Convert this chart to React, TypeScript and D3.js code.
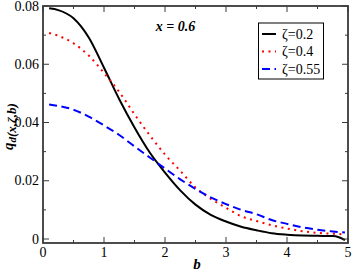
import React from "react";
import * as d3 from "d3";

const bGrid = [0.1, 0.25, 0.5, 0.75, 1.0, 1.25, 1.5, 1.75, 2.0, 2.25, 2.5, 2.75, 3.0, 3.25, 3.5, 3.75, 4.0, 4.25, 4.5, 4.75, 4.85, 4.95];
const zeta02 = [0.0792, 0.0786, 0.0758, 0.0692, 0.0588, 0.048, 0.0383, 0.0297, 0.0228, 0.0167, 0.0118, 0.0083, 0.006, 0.0042, 0.003, 0.002, 0.0015, 0.0012, 0.0011, 0.001, 0.0006, -0.0004];
const zeta04 = [0.0707, 0.0698, 0.0672, 0.063, 0.057, 0.0505, 0.0428, 0.0356, 0.029, 0.0234, 0.0177, 0.0138, 0.0107, 0.0078, 0.0062, 0.0047, 0.0036, 0.0027, 0.0021, 0.0018, 0.0017, 0.0015];
const zeta055 = [0.0462, 0.0457, 0.0444, 0.042, 0.039, 0.0357, 0.0318, 0.028, 0.0242, 0.0205, 0.0172, 0.0143, 0.012, 0.01, 0.0085, 0.0065, 0.0052, 0.004, 0.0032, 0.0026, 0.0024, 0.0022];
const seriesNames = ["ζ=0.2", "ζ=0.4", "ζ=0.55"];
const xTicks = [0, 1, 2, 3, 4, 5];
const xMinor = [0.5, 1.5, 2.5, 3.5, 4.5];
const yTicks = [0, 0.02, 0.04, 0.06, 0.08];
const yTickLabels = ["0", "0.02", "0.04", "0.06", "0.08"];
const yMinor = [0.01, 0.03, 0.05, 0.07];

const W = 354, H = 273;
const L = 43, R = 348, T = 6, B = 243;
const font = "serif";

export default function App() {
  const x = d3.scaleLinear().domain([0, 5]).range([L, R]);
  const y = d3.scaleLinear().domain([-0.00137, 0.08]).range([B, T]);
  const line = d3.line<[number, number]>().x(d => x(d[0])).y(d => y(d[1])).curve(d3.curveMonotoneX);
  const series = [
    { vals: zeta02, color: "#000000", dash: undefined as string | undefined },
    { vals: zeta04, color: "#ff0000", dash: "2,4.5" },
    { vals: zeta055, color: "#0000ff", dash: "8,4.5" },
  ];
  const axisColor = "#3a3a3a";
  return (
    <div style={{ position: "absolute", left: 0, top: 0 }}>
    <svg width={W} height={H} style={{ display: "block", background: "#fff" }} fontFamily={font}>
      <rect x={0} y={0} width={W} height={H} fill="#fff" />
      {series.map((s, i) => (
        <path key={i} d={line(bGrid.map((b, j) => [b, s.vals[j]]))!} fill="none" stroke={s.color}
          strokeWidth={2} strokeDasharray={s.dash} />
      ))}
      <rect x={L} y={T} width={R - L} height={B - T} fill="none" stroke={axisColor} strokeWidth={1.8} />
      {xTicks.map(t => (
        <g key={"xt" + t}>
          <line x1={x(t)} x2={x(t)} y1={B} y2={B - 6} stroke={axisColor} strokeWidth={1} />
          <line x1={x(t)} x2={x(t)} y1={T} y2={T + 6} stroke={axisColor} strokeWidth={1} />
          <text x={x(t)} y={257} textAnchor="middle" fontSize={14}>{t}</text>
        </g>
      ))}
      {xMinor.map(t => (
        <g key={"xm" + t}>
          <line x1={x(t)} x2={x(t)} y1={B} y2={B - 3} stroke={axisColor} strokeWidth={1} />
          <line x1={x(t)} x2={x(t)} y1={T} y2={T + 3} stroke={axisColor} strokeWidth={1} />
        </g>
      ))}
      {yTicks.map((t, i) => (
        <g key={"yt" + t}>
          <line x1={L} x2={L + 6} y1={y(t)} y2={y(t)} stroke={axisColor} strokeWidth={1} />
          <line x1={R} x2={R - 6} y1={y(t)} y2={y(t)} stroke={axisColor} strokeWidth={1} />
          <text x={39} y={y(t) + 4.5} textAnchor="end" fontSize={14}>{yTickLabels[i]}</text>
        </g>
      ))}
      {yMinor.map(t => (
        <g key={"ym" + t}>
          <line x1={L} x2={L + 3} y1={y(t)} y2={y(t)} stroke={axisColor} strokeWidth={1} />
          <line x1={R} x2={R - 3} y1={y(t)} y2={y(t)} stroke={axisColor} strokeWidth={1} />
        </g>
      ))}
      <text x={175.5} y={31} textAnchor="middle" fontSize={14} fontWeight="bold" fontStyle="italic">x = 0.6</text>
      <text x={197} y={269} textAnchor="middle" fontSize={15} fontWeight="bold" fontStyle="italic">b</text>
      <text transform="translate(13,150) rotate(-90)" textAnchor="start" fontWeight="bold" fontStyle="italic">
        <tspan fontSize={15}>q</tspan>
        <tspan fontSize={11} dy={3}>d</tspan>
        <tspan fontSize={13}>(x,ζ,b)</tspan>
      </text>
      <rect x={258.5} y={23} width={65} height={56} fill="#fff" stroke="#000" strokeWidth={1} />
      {series.map((s, i) => (
        <g key={"lg" + i}>
          <line x1={262} x2={276} y1={34 + i * 17.5} y2={34 + i * 17.5} stroke={s.color} strokeWidth={2} strokeDasharray={s.dash} />
          <text x={282} y={38.5 + i * 17.5} fontSize={14}>{seriesNames[i]}</text>
        </g>
      ))}
    </svg>
    </div>
  );
}
